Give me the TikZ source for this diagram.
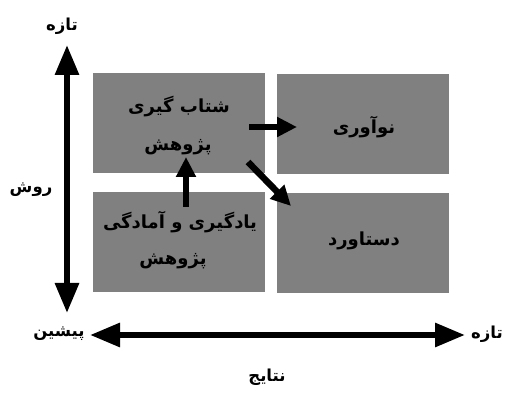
\documentclass[tikz,border=0pt]{standalone}
\usepackage{fontspec}
\newfontfamily\arabicfont[Script=Arabic]{DejaVu Sans}
\TeXXeTstate=1
\usetikzlibrary{arrows.meta}
\begin{document}
\begin{tikzpicture}[x=1pt,y=-1pt,
  cell/.style={draw=none,fill=black!50,minimum width=172pt,minimum height=100pt,inner sep=0pt},
  lbl/.style={inner sep=0pt,font=\arabicfont\bfseries\fontsize{18}{20}\selectfont},
  axlbl/.style={inner sep=0pt,font=\arabicfont\bfseries\fontsize{16.5}{18}\selectfont},
  axis/.style={line width=6pt,{Triangle[length=30pt,width=23pt]}-{Triangle[length=30pt,width=23pt]}},
  flow/.style={line width=6.5pt,-{Triangle[length=20pt,width=19pt]}}]
\useasboundingbox (0,0) rectangle (507,393);
% boxes
\node[cell] (tl) at (178.5,123.5) {};
\node[cell] (tr) at (362.5,124) {};
\node[cell] (bl) at (178.5,242.5) {};
\node[cell] (br) at (362.5,243.5) {};
% box texts
\node[lbl] (tl1) at (179,107) {\beginR شتاب گیری\endR};
\node[lbl] (tl2) at (178,147) {\beginR پژوهش\endR};
\node[lbl] (tr1) at (364,127) {\beginR نوآوری\endR};
\node[lbl] (bl1) at (180,222) {\beginR یادگیری و آمادگی\endR};
\node[lbl] (bl2) at (173,261) {\beginR پژوهش\endR};
\node[lbl] (br1) at (364,241) {\beginR دستاورد\endR};
% axes
\coordinate (ytop) at (67,45);
\coordinate (ybot) at (67,313);
\coordinate (xl) at (90,335);
\coordinate (xr) at (465,335);
\draw[axis] (ybot) -- (ytop);
\draw[axis] (xl) -- (xr);
\node[axlbl] (ynew) at (62,26) {\beginR تازه\endR};
\node[axlbl] (yname) at (31,190) {\beginR روش\endR};
\node[axlbl] (xold) at (59,334) {\beginR پیشین\endR};
\node[axlbl] (xnew) at (487,334) {\beginR تازه\endR};
\node[axlbl] (xname) at (267,377) {\beginR نتایج\endR};
% inner arrows
\coordinate (a1s) at (249,127);
\coordinate (a1e) at (297,127);
\coordinate (a2s) at (186,207);
\coordinate (a2e) at (186,157);
\coordinate (a3s) at (248,162);
\coordinate (a3e) at (291,206);
\draw[flow] (a1s) -- (a1e);
\draw[flow] (a2s) -- (a2e);
\draw[flow] (a3s) -- (a3e);
\end{tikzpicture}
\end{document}
